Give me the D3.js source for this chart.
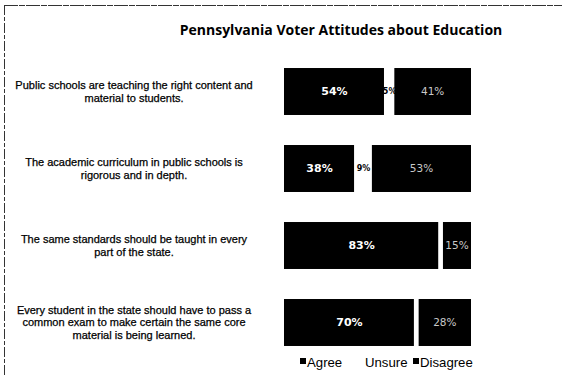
<!DOCTYPE html>
<html>
<head>
<meta charset="utf-8">
<script src="https://cdn.jsdelivr.net/npm/d3@7"></script>
<style>
  html, body { margin: 0; padding: 0; background: #fff; }
  svg { display: block; }
</style>
</head>
<body>
<svg id="chart" width="562" height="376"></svg>
<script>
// Survey statements (split into display lines) and response shares, in percent
const statements = [
  ["Public schools are teaching the right content and", "material to students."],
  ["The academic curriculum in public schools is", "rigorous and in depth."],
  ["The same standards should be taught in every", "part of the state."],
  ["Every student in the state should have to pass a", "common exam to make certain the same core", "material is being learned."]
];
const agree    = [54, 38, 83, 70];
const unsure   = [5, 9, 2, 2];
const disagree = [41, 53, 15, 28];
const seriesNames = ["Agree", "Unsure", "Disagree"];

const svg = d3.select("#chart");
const W = 562, H = 376;

// Frame: thin dark rule along the top and left edge
svg.append("line").attr("x1", 4).attr("x2", W).attr("y1", 5.5).attr("y2", 5.5)
  .attr("stroke", "#333").attr("stroke-width", 1).attr("stroke-dasharray", "14 1 6 1");
svg.append("line").attr("x1", 4.5).attr("x2", 4.5).attr("y1", 5).attr("y2", H)
  .attr("stroke", "#333").attr("stroke-width", 1).attr("stroke-dasharray", "10 2 4 2");

// Title
svg.append("text")
  .attr("x", 341).attr("y", 35)
  .attr("text-anchor", "middle")
  .attr("font-family", "'Open Sans', 'Liberation Sans', sans-serif")
  .attr("font-weight", "bold")
  .attr("font-size", 14)
  .attr("fill", "#000")
  .text("Pennsylvania Voter Attitudes about Education");

// Scales
const idx = d3.range(statements.length);
const x = d3.scaleLinear().domain([0, 100]).range([284, 471]);
const y = d3.scaleBand().domain(idx).range([53, 361]).paddingInner(0.39).paddingOuter(0.195);

const colors = d3.scaleOrdinal().domain(seriesNames).range(["#000", "#fff", "#000"]);

// Stack the three response series per statement
const rows = idx.map(i => ({ i, Agree: agree[i], Unsure: unsure[i], Disagree: disagree[i] }));
const stacked = d3.stack().keys(seriesNames)(rows);

const layers = svg.append("g").selectAll("g")
  .data(stacked).join("g")
  .attr("fill", d => colors(d.key));

layers.selectAll("rect")
  .data(d => d.map(v => Object.assign(v, { key: d.key })))
  .join("rect")
  .attr("x", d => x(d[0]))
  .attr("y", d => y(d.data.i))
  .attr("width", d => Math.max(0, x(d[1]) - x(d[0]) - (d.key === "Agree" ? 1 : 0)))
  .attr("height", y.bandwidth());

// Value labels
const labelStyle = {
  Agree:    { fill: "#fff", weight: "bold", size: 11 },
  Unsure:   { fill: "#000", weight: "bold", size: 8 },
  Disagree: { fill: "#c8c8c8", weight: "normal", size: 10.5 }
};
stacked.forEach(layer => {
  const st = labelStyle[layer.key];
  svg.append("g").selectAll("text")
    .data(layer.filter(d => layer.key !== "Unsure" || (d[1] - d[0]) >= 5))
    .join("text")
    .attr("x", d => (x(d[0]) + x(d[1])) / 2)
    .attr("y", d => y(d.data.i) + y.bandwidth() / 2)
    .attr("dy", "0.35em")
    .attr("text-anchor", "middle")
    .attr("font-family", "'DejaVu Sans', sans-serif")
    .attr("font-weight", st.weight)
    .attr("font-size", st.size)
    .attr("fill", st.fill)
    .text(d => (d[1] - d[0]) + "%");
});

// Statement labels, centred in a column left of the bars
const lineH = 12.8;
svg.append("g").selectAll("text")
  .data(statements.map((lines, i) => ({ lines, i })))
  .join("text")
  .attr("text-anchor", "middle")
  .attr("font-family", "'Liberation Sans', Arial, sans-serif")
  .attr("font-size", 11)
  .attr("fill", "#000")
  .attr("stroke", "#000")
  .attr("stroke-width", 0.25)
  .each(function(d) {
    const cy = y(d.i) + y.bandwidth() / 2;
    const top = cy - (d.lines.length - 1) * lineH / 2;
    d3.select(this).selectAll("tspan")
      .data(d.lines).join("tspan")
      .attr("x", 134)
      .attr("y", (l, k) => top + k * lineH)
      .attr("dy", "0.35em")
      .text(l => l);
  });

// Legend
const legendItems = [
  { key: "Agree", x: 300 },
  { key: "Unsure", x: 358 },
  { key: "Disagree", x: 413 }
];
const legend = svg.append("g").selectAll("g")
  .data(legendItems).join("g")
  .attr("transform", d => `translate(${d.x},362)`);
legend.append("rect")
  .attr("x", 0).attr("y", -4).attr("width", 6).attr("height", 6)
  .attr("fill", d => colors(d.key));
legend.append("text")
  .attr("x", 7).attr("y", 0).attr("dy", "0.35em")
  .attr("font-family", "'Liberation Sans', Arial, sans-serif")
  .attr("font-size", 13.2)
  .attr("fill", "#000")
  .text(d => d.key);
</script>
</body>
</html>
